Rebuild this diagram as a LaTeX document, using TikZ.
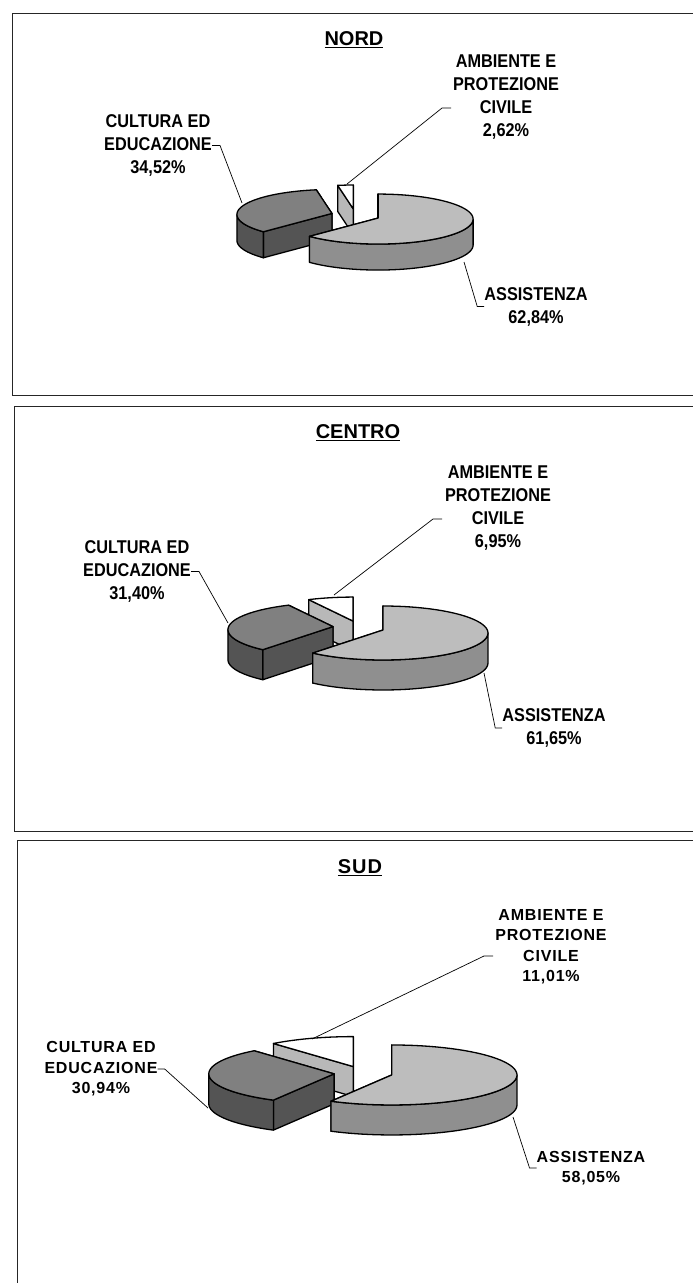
\documentclass[tikz,border=0pt]{standalone}
\usepackage{fontspec}
\setmainfont{Liberation Sans}
\newfontfamily\narrowsans{Liberation Sans}[FakeStretch=0.88]
\newfontfamily\widesans{Liberation Sans}[LetterSpace=5]

\definecolor{cultop}{gray}{0.50}
\definecolor{culside}{gray}{0.33}
\definecolor{asstop}{gray}{0.74}
\definecolor{assside}{gray}{0.56}
\definecolor{ambside}{gray}{0.72}

% one exploded slice: start, end, visible side from, to, top colour, side colour
\newcommand{\pieslice}[6]{%
	\pgfmathsetmacro{\sm}{(#1+#2)/2}
	\pgfmathsetmacro{\ox}{\pcx+\pexp*\prx*cos(\sm)}
	\pgfmathsetmacro{\oy}{\pcy-\pexp*\pry*sin(\sm)}
	\pgfmathsetmacro{\ey}{\oy+\pdel}
	\foreach \a in {#1,#2}{
		\filldraw[slice, fill=#6] (\ox,\oy) -- ({\ox+\prx*cos(\a)},{\ey-\pry*sin(\a)}) -- ++(0,\pdep) -- (\ox,\oy+\pdep) -- cycle;
	}
	\ifdim #3pt<#4pt
		\filldraw[slice, fill=#6] plot[domain=#3:#4, samples=40] ({\ox+\prx*cos(\x)},{\ey-\pry*sin(\x)})
			-- plot[domain=#4:#3, samples=40] ({\ox+\prx*cos(\x)},{\ey-\pry*sin(\x)+\pdep}) -- cycle;
	\fi
	\filldraw[slice, fill=#5] (\ox,\oy) -- plot[domain=#1:#2, samples=60] ({\ox+\prx*cos(\x)},{\ey-\pry*sin(\x)}) -- cycle;
}

\begin{document}
\begin{tikzpicture}[x=1pt, y=-1pt,
		title/.style={font=\fontsize{20}{24}\selectfont\bfseries, inner sep=0pt},
		lbl/.style={font=\narrowsans\fontsize{18.5}{23}\selectfont\bfseries, align=center, inner sep=0pt},
		lblS/.style={font=\widesans\fontsize{16}{20.5}\selectfont\bfseries, align=center, inner sep=0pt},
		slice/.style={draw=black, line width=1.3pt, line join=round},
		leader/.style={draw=black, line width=0.7pt},
		frame/.style={draw=black!85, line width=1pt}]
	\useasboundingbox (0,0) rectangle (693,1283);

	\draw[frame] (12.7,13) rectangle (720,395);
	\draw[frame] (14,406) rectangle (720,831);
	\draw[frame] (17,840) rectangle (720,1300);

	% NORD
	\node[title] (tN) at (354,40) {\underline{NORD}};
	\def\pcx{355.4}\def\pcy{215.5}\def\prx{95}\def\pry{25}\def\pdel{1}\def\pdep{26}\def\pexp{0.26}
	\pieslice{90}{99.5}{0}{0}{white}{ambside}
	\pieslice{99.5}{223.8}{180}{223.8}{cultop}{culside}
	\pieslice{223.8}{450}{223.8}{360}{asstop}{assside}
	\node[lbl] (ambN) at (506,97.5) {AMBIENTE E\\PROTEZIONE\\CIVILE\\2,62\%};
	\node[lbl] (culN) at (158,145.5) {CULTURA ED\\EDUCAZIONE\\34,52\%};
	\node[lbl] (assN) at (536,306.5) {ASSISTENZA\\62,84\%};
	\coordinate (ambNtk) at (451,108);
	\coordinate (ambNpt) at (347,184);
	\coordinate (culNpt) at (242,203);
	\coordinate (assNpt) at (464,262);
	\draw[leader] (ambNtk) -- ++(-9,0) -- (ambNpt);
	\draw[leader] (culN.east) -- ++(8,0) -- (culNpt);
	\draw[leader] (assN.west) -- ++(-7,0) -- (assNpt);

	% CENTRO
	\node[title] (tC) at (358,433) {\underline{CENTRO}};
	\def\pcx{358.7}\def\pcy{627.6}\def\prx{105}\def\pry{27}\def\pdel{3}\def\pdep{30}\def\pexp{0.2476}
	\pieslice{90}{115.02}{0}{0}{white}{ambside}
	\pieslice{115.02}{228.06}{180}{228.06}{cultop}{culside}
	\pieslice{228.06}{450}{228.06}{360}{asstop}{assside}
	\node[lbl] (ambC) at (498,508.5) {AMBIENTE E\\PROTEZIONE\\CIVILE\\6,95\%};
	\node[lbl] (culC) at (137,571.5) {CULTURA ED\\EDUCAZIONE\\31,40\%};
	\node[lbl] (assC) at (554,728) {ASSISTENZA\\61,65\%};
	\coordinate (ambCtk) at (442,519);
	\coordinate (ambCpt) at (334,595);
	\coordinate (culCpt) at (228,623);
	\coordinate (assCpt) at (484,673);
	\draw[leader] (ambCtk) -- ++(-9,0) -- (ambCpt);
	\draw[leader] (culC.east) -- ++(8,0) -- (culCpt);
	\draw[leader] (assC.west) -- ++(-7,0) -- (assCpt);

	% SUD
	\node[title] (tS) at (360,868) {\underline{\widesans SUD}};
	\def\pcx{363.3}\def\pcy{1073.2}\def\prx{125.3}\def\pry{30}\def\pdel{0}\def\pdep{30}\def\pexp{0.234}
	\pieslice{90}{129.64}{0}{0}{white}{ambside}
	\pieslice{129.64}{241.02}{180}{241.02}{cultop}{culside}
	\pieslice{241.02}{450}{241.02}{360}{asstop}{assside}
	\node[lblS] (ambS) at (551,946.5) {AMBIENTE E\\PROTEZIONE\\CIVILE\\11,01\%};
	\node[lblS] (culS) at (101,1069) {CULTURA ED\\EDUCAZIONE\\30,94\%};
	\node[lblS] (assS) at (591,1168) {ASSISTENZA\\58,05\%};
	\coordinate (ambStk) at (493,956);
	\coordinate (ambSpt) at (312,1039);
	\coordinate (culSpt) at (208,1108);
	\coordinate (assSpt) at (513,1117);
	\draw[leader] (ambStk) -- ++(-9,0) -- (ambSpt);
	\draw[leader] (culS.east) -- ++(7,0) -- (culSpt);
	\draw[leader] (assS.west) -- ++(-7,0) -- (assSpt);
\end{tikzpicture}
\end{document}
